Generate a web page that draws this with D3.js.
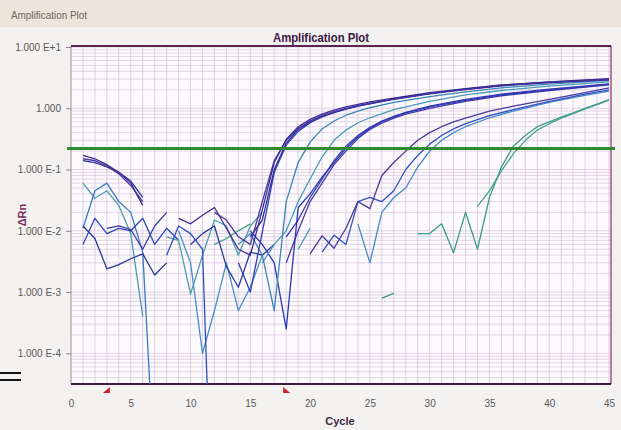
<!DOCTYPE html>
<html>
<head>
<meta charset="utf-8">
<script src="https://cdn.jsdelivr.net/npm/d3@7"></script>
<style>
  body { margin: 0; background: #f3f2f0; font-family: "Liberation Sans", Arial, sans-serif; }
</style>
</head>
<body>
<svg id="chart" width="621" height="430"></svg>
<script>
// axes
const xTicks = [0, 5, 10, 15, 20, 25, 30, 35, 40, 45];
const yTicks = [1e1, 1, 1e-1, 1e-2, 1e-3, 1e-4];
const yTickLabels = ["1.000 E+1", "1.000", "1.000 E-1", "1.000 E-2", "1.000 E-3", "1.000 E-4"];
const threshold = 0.22;
const baselineMarks = [3, 18];

// amplification curves: [cycle, delta Rn], null = gap
const curveA1 = [[1,0.17],[2,0.15],[3,0.12],[4,0.09],[5,0.06],[6,0.026],[7,null],[9,0.016],[10,0.013],[11,0.018],[12,0.024],[13,0.011],[14,0.005],[15,0.004],[16,0.022],[17,0.13],[18,0.31],[19,0.5],[20,0.66],[21,0.8],[22,0.93],[23,1.05],[24,1.16],[25,1.27],[27,1.47],[30,1.8],[33,2.1],[36,2.4],[40,2.7],[45,3.05]];
const curveA2 = [[1,0.15],[2,0.14],[3,0.115],[4,0.085],[5,0.055],[6,0.03],[7,null],[12,0.02],[13,0.015],[14,0.008],[15,0.006],[16,0.03],[17,0.14],[18,0.3],[19,0.47],[20,0.62],[21,0.76],[22,0.88],[23,1.0],[24,1.1],[25,1.2],[27,1.42],[30,1.75],[33,2.05],[36,2.35],[40,2.65],[45,2.95]];
const curveA3 = [[1,0.14],[2,0.13],[3,0.11],[4,0.09],[5,0.065],[6,0.035],[7,null],[15,0.008],[16,0.015],[17,0.1],[18,0.27],[19,0.45],[20,0.6],[21,0.74],[22,0.86],[23,0.98],[24,1.08],[25,1.18],[27,1.4],[30,1.72],[33,2.02],[36,2.32],[40,2.62],[45,2.9]];
const curveA4 = [[14,0.003],[15,0.001],[16,0.0095],[17,0.09],[18,0.25],[19,0.42],[20,0.58],[21,0.72],[22,0.85],[23,0.97],[24,1.08],[25,1.2],[27,1.42],[30,1.75],[33,2.05],[36,2.38],[40,2.68],[45,3.0]];
const curveB1 = [[14,0.006],[15,0.009],[16,0.004],[17,0.0005],[18,0.03],[19,0.13],[20,0.28],[21,0.46],[22,0.62],[23,0.77],[24,0.9],[25,1.02],[27,1.25],[30,1.55],[33,1.85],[36,2.15],[40,2.48],[45,2.85]];
const curveB2 = [[16,0.003],[17,0.006],[18,0.01],[19,0.03],[20,0.07],[21,0.16],[22,0.3],[23,0.44],[24,0.58],[25,0.7],[27,0.95],[30,1.3],[33,1.65],[36,1.95],[40,2.3],[45,2.7]];
const curveC1 = [[15,0.01],[16,0.006],[17,0.003],[18,0.00025],[19,0.024],[20,0.04],[21,0.075],[22,0.13],[23,0.22],[24,0.34],[25,0.47],[26,0.6],[27,0.72],[28,0.84],[30,1.05],[33,1.35],[36,1.65],[40,2.0],[45,2.45]];
const curveC2 = [[18,0.008],[19,0.015],[20,0.035],[21,0.07],[22,0.14],[23,0.24],[24,0.36],[25,0.49],[26,0.62],[27,0.74],[28,0.86],[30,1.08],[33,1.4],[36,1.7],[40,2.05],[45,2.5]];
const curveC3 = [[18,0.003],[19,0.01],[20,0.03],[21,0.06],[22,0.12],[23,0.2],[24,0.32],[25,0.45],[26,0.57],[27,0.69],[28,0.8],[30,1.0],[33,1.3],[36,1.6],[40,1.95],[45,2.4]];
const curveD1 = [[20,0.0042],[21,0.0083],[22,0.0052],[23,0.011],[24,0.03],[25,0.023],[26,0.08],[27,0.13],[28,0.2],[29,0.3],[30,0.4],[31,0.5],[32,0.6],[33,0.69],[35,0.9],[37,1.08],[40,1.4],[43,1.8],[45,2.15]];
const curveD2 = [[21,0.0045],[22,0.0085],[23,0.006],[24,0.03],[25,0.035],[26,0.03],[27,0.045],[28,0.1],[29,0.17],[30,0.26],[31,0.36],[32,0.46],[33,0.56],[35,0.76],[37,0.95],[40,1.3],[43,1.7],[45,2.0]];
const curveD3 = [[24,0.013],[25,0.003],[26,0.02],[27,0.035],[28,0.05],[29,0.11],[30,0.2],[31,0.3],[32,0.4],[33,0.5],[35,0.7],[37,0.9],[40,1.25],[43,1.62],[45,1.9]];
const curveE1 = [[29,0.009],[30,0.009],[31,0.013],[32,0.0044],[33,0.02],[34,0.005],[35,0.035],[36,0.11],[37,0.24],[38,0.36],[39,0.5],[40,0.6],[41,0.72],[42,0.84],[43,1.0],[44,1.17],[45,1.38]];
const curveE2 = [[34,0.025],[35,0.045],[36,0.095],[37,0.18],[38,0.3],[39,0.44],[40,0.56],[41,0.69],[42,0.82],[43,0.98],[44,1.15],[45,1.36]];

// background noise traces (early cycles)
const noise1 = [[1,0.06],[2,0.034],[3,0.045],[4,0.026],[5,0.009],[6,0.0004]];
const noise2 = [[1,0.011],[2,0.045],[3,0.06],[4,0.03],[5,0.02],[6,0.0045],[7,0.000001]];
const noise3 = [[1,0.012],[2,0.0075],[3,0.0024],[4,0.0028],[5,0.0035],[6,0.0042],[7,0.0019],[8,0.003]];
const noise4 = [[1,0.006],[2,0.016],[3,0.009],[4,0.011],[5,0.01],[6,0.016],[7,0.006],[8,0.011],[9,0.007]];
const noise5 = [[3,0.011],[4,0.012],[5,0.0105],[6,0.005],[7,0.012],[8,0.02]];
const noise6 = [[8,0.008],[9,0.007],[10,0.00093],[11,0.004],[12,0.015],[13,0.012],[14,0.004],[15,0.012],[16,0.02]];
const noise7 = [[9,0.01],[10,0.003],[11,0.0001],[12,0.0005],[13,0.003],[14,0.0005],[15,0.0012],[16,0.004]];
const noise8 = [[8,0.004],[9,0.012],[10,0.009],[11,0.005],[12,0.00000001]];
const noise9 = [[12,0.006],[13,0.0075],[14,0.01],[15,0.013]];
const noise10 = [[10,0.006],[11,0.009],[12,0.012],[13,0.0026],[14,0.0012],[15,0.0045],[16,0.004],[17,0.006]];
const noise11 = [[19,0.005],[20,0.011]];
const noise12 = [[26,0.0008],[27,0.00095]];

const traces = [
  [noise1, "#4b9ab2"], [noise2, "#3a78c8"], [noise3, "#2a3596"], [noise4, "#3045b8"],
  [noise5, "#3a3aa0"], [noise6, "#4aa0a8"], [noise7, "#4a8cd0"], [noise8, "#2f4fc0"],
  [noise9, "#44a088"], [noise10, "#2c3a9c"], [noise11, "#3e9ab0"], [noise12, "#3a9a80"],
  [curveE1, "#3c9a88"], [curveE2, "#48a090"],
  [curveD3, "#4688c8"], [curveD2, "#3050c0"], [curveD1, "#4a3a9a"],
  [curveC3, "#4a3aa0"], [curveC2, "#3a3ab0"], [curveC1, "#2838b8"],
  [curveB2, "#4a9abc"], [curveB1, "#3a86b8"],
  [curveA4, "#3440b0"], [curveA3, "#2a2f9c"], [curveA2, "#4b35a0"], [curveA1, "#3c2c90"]
];

const svg = d3.select("#chart");
const plotLeft = 71, plotRight = 611, plotTop = 46, plotBottom = 384;

const x = d3.scaleLinear().domain([0, 45]).range([71, 609]);
const y = d3.scaleLog().domain([Math.pow(10, -4.5), 10]).range([plotBottom, 47]);

// header band
svg.append("rect").attr("x", 0).attr("y", 0).attr("width", 621).attr("height", 27).attr("fill", "#ebe5dc");
svg.append("text").attr("x", 11).attr("y", 19).attr("font-size", 11).attr("fill", "#6a6660")
  .attr("textLength", 76).attr("lengthAdjust", "spacingAndGlyphs").text("Amplification Plot");

// plot background
svg.append("rect").attr("x", plotLeft).attr("y", plotTop)
  .attr("width", plotRight - plotLeft).attr("height", plotBottom - plotTop)
  .attr("fill", "#fcfafc");

// horizontal log grid
const minor = [];
for (let d = -5; d <= 1; d++) {
  for (let k = 1; k <= 9; k++) {
    const v = k * Math.pow(10, d);
    if (v >= y.domain()[0] && v <= 10) minor.push(v);
  }
}
svg.append("g").selectAll("line").data(minor).join("line")
  .attr("x1", plotLeft).attr("x2", plotRight)
  .attr("y1", d => y(d)).attr("y2", d => y(d))
  .attr("stroke", "#dccbdc").attr("stroke-width", 0.8);

// vertical grid, one per cycle
svg.append("g").selectAll("line").data(d3.range(1, 46)).join("line")
  .attr("x1", d => x(d)).attr("x2", d => x(d))
  .attr("y1", plotTop).attr("y2", plotBottom)
  .attr("stroke", "#d3c7df").attr("stroke-width", 0.8);

// frame
svg.append("line").attr("x1", plotLeft).attr("x2", plotLeft).attr("y1", plotTop).attr("y2", plotBottom).attr("stroke", "#9a90a0");
svg.append("line").attr("x1", plotRight).attr("x2", plotRight).attr("y1", plotTop).attr("y2", plotBottom).attr("stroke", "#a85080").attr("stroke-width", 1.5);
svg.append("line").attr("x1", plotLeft).attr("x2", plotRight).attr("y1", plotTop).attr("y2", plotTop).attr("stroke", "#5a2452").attr("stroke-width", 2);
svg.append("line").attr("x1", plotLeft).attr("x2", plotRight).attr("y1", plotBottom).attr("y2", plotBottom).attr("stroke", "#3a1c3c").attr("stroke-width", 2);

// title
svg.append("text").attr("x", 273).attr("y", 42).attr("font-size", 13).attr("font-weight", "bold")
  .attr("fill", "#3a1840").attr("textLength", 96).attr("lengthAdjust", "spacingAndGlyphs")
  .text("Amplification Plot");

// y axis
const yAxis = svg.append("g").attr("transform", `translate(${plotLeft},0)`)
  .call(d3.axisLeft(y).tickValues(yTicks).tickSize(5).tickFormat((d, i) => yTickLabels[i]));
yAxis.select(".domain").remove();
yAxis.selectAll("line").attr("stroke", "#8a8090");
yAxis.selectAll("text").attr("font-size", 10).attr("fill", "#5a5858")
  .attr("font-family", "Liberation Sans, Arial, sans-serif").attr("dx", -2);

// x axis
const xAxis = svg.append("g").attr("transform", `translate(0,${plotBottom})`)
  .call(d3.axisBottom(x).tickValues(xTicks).tickSize(0).tickPadding(16));
xAxis.select(".domain").remove();
xAxis.selectAll("text").attr("font-size", 10).attr("fill", "#5a5858")
  .attr("font-family", "Liberation Sans, Arial, sans-serif");

svg.append("text").attr("x", 340).attr("y", 425).attr("text-anchor", "middle")
  .attr("font-size", 11).attr("font-weight", "bold").attr("fill", "#3a2a3a").text("Cycle");
svg.append("text").attr("transform", "translate(26,215) rotate(-90)").attr("text-anchor", "middle")
  .attr("font-size", 11).attr("font-weight", "bold").attr("fill", "#7a2a5a").text("ΔRn");

// left "=" marks
svg.append("g").selectAll("line").data([373, 380]).join("line")
  .attr("x1", 0).attr("x2", 21).attr("y1", d => d).attr("y2", d => d)
  .attr("stroke", "#111").attr("stroke-width", 2);

// traces
svg.append("clipPath").attr("id", "clip").append("rect")
  .attr("x", plotLeft).attr("y", plotTop)
  .attr("width", plotRight - plotLeft).attr("height", plotBottom - plotTop);

const line = d3.line()
  .defined(d => d[1] !== null)
  .x(d => x(d[0]))
  .y(d => y(d[1]));

svg.append("g").attr("clip-path", "url(#clip)")
  .selectAll("path").data(traces).join("path")
  .attr("d", d => line(d[0]))
  .attr("fill", "none")
  .attr("stroke", d => d[1])
  .attr("stroke-width", 1.3)
  .attr("stroke-linejoin", "round");

// threshold
svg.append("line").attr("x1", 67).attr("x2", 615)
  .attr("y1", y(threshold)).attr("y2", y(threshold))
  .attr("stroke", "#2e8a2e").attr("stroke-width", 3);

// baseline markers
svg.append("g").selectAll("path").data(baselineMarks).join("path")
  .attr("d", (d, i) => {
    const cx = x(d);
    return i === 0
      ? `M${cx + 3},${plotBottom + 3} L${cx + 3},${plotBottom + 9} L${cx - 4},${plotBottom + 9} Z`
      : `M${cx - 3},${plotBottom + 3} L${cx - 3},${plotBottom + 9} L${cx + 4},${plotBottom + 9} Z`;
  })
  .attr("fill", "#d0202a");
</script>
</body>
</html>
